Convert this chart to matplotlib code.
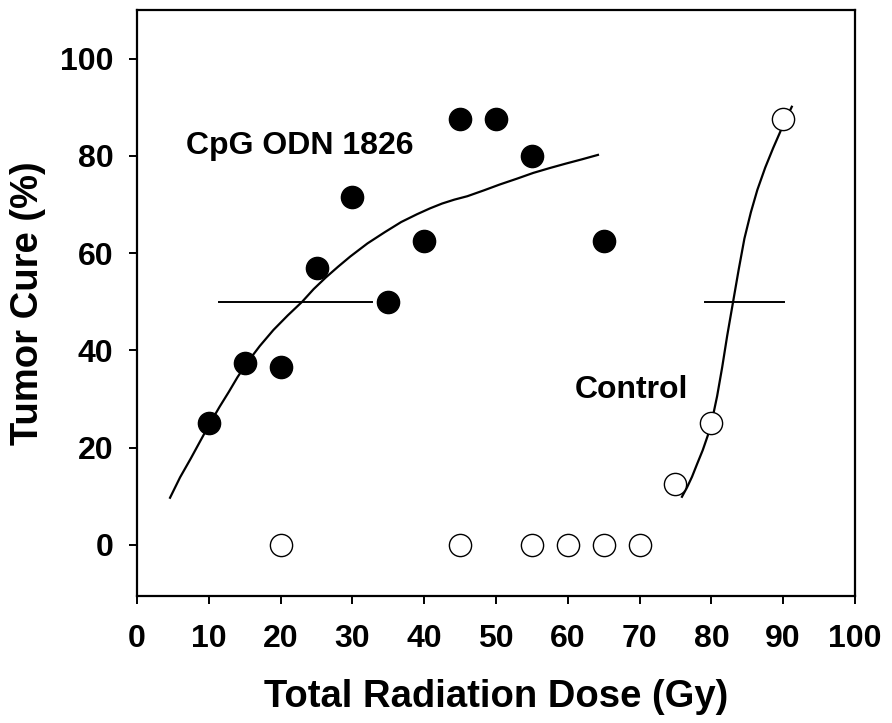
import matplotlib
matplotlib.use("Agg")
import matplotlib.pyplot as plt

# filled circles: CpG ODN 1826 + radiation
cpg_dose = [10, 15, 20, 25, 30, 35, 40, 45, 50, 55, 65]
cpg_cure = [25, 37.5, 36.5, 57, 71.5, 50, 62.5, 87.5, 87.5, 80, 62.5]

# open circles: control
ctl_dose = [20, 45, 55, 60, 65, 70, 75, 80, 90]
ctl_cure = [0, 0, 0, 0, 0, 0, 12.5, 25, 87.5]

# fitted curves
cpg_fit_x = [4.6, 6.0, 7.5, 8.9, 10.2, 11.5, 12.8, 14.0, 15.3, 17.1, 19.0, 21.0, 23.0, 24.6,
             26.3, 28.0, 29.7, 32.1, 34.5, 36.8, 39.0, 40.8, 42.5, 44.2, 46.0, 48.3, 50.5,
             52.9, 55.2, 57.5, 59.7, 62.0, 64.2]
cpg_fit_y = [9.7, 13.9, 17.8, 21.6, 25.1, 28.4, 31.5, 34.5, 37.4, 40.9, 44.2, 47.2, 50.0, 52.6,
             55.0, 57.2, 59.3, 62.0, 64.3, 66.4, 68.0, 69.2, 70.2, 71.0, 71.7, 72.9, 74.1,
             75.3, 76.5, 77.5, 78.4, 79.3, 80.2]
ctl_fit_x = [75.9, 76.6, 77.3, 78.0, 78.8, 79.5, 80.1, 80.8, 81.5, 82.2, 83.0, 83.8, 84.6,
             85.5, 86.4, 87.5, 88.6, 89.9, 91.2]
ctl_fit_y = [9.9, 11.8, 14.0, 16.6, 19.5, 22.5, 25.7, 30.6, 36.5, 43.0, 49.8, 56.6, 63.0,
             68.4, 73.0, 77.6, 81.6, 86.0, 90.1]

# TCD50 markers
cpg_tcd50 = (11.4, 32.7)
ctl_tcd50 = (79.1, 90.1)

plt.rcParams['font.family'] = ['Liberation Sans', 'DejaVu Sans']
plt.rcParams['font.weight'] = 'bold'

fig = plt.figure(figsize=(8.92, 7.23), dpi=100)
ax = fig.add_axes([0.1536, 0.1757, 0.8049, 0.8105])

ax.plot(cpg_fit_x, cpg_fit_y, color='black', lw=1.6, solid_joinstyle='round')
ax.plot(ctl_fit_x, ctl_fit_y, color='black', lw=1.6, solid_joinstyle='round')
ax.plot(cpg_tcd50, [50, 50], color='black', lw=1.4)
ax.plot(ctl_tcd50, [50, 50], color='black', lw=1.4)

ax.plot(cpg_dose, cpg_cure, 'o', ms=16, mfc='black', mec='black', ls='none')
ax.plot(ctl_dose, ctl_cure, 'o', ms=16, mfc='white', mec='black', mew=1.0, ls='none')

ax.text(6.8, 82, 'CpG ODN 1826', fontsize=23, fontweight='bold', va='center', ha='left')
ax.text(60.9, 31.9, 'Control', fontsize=23, fontweight='bold', va='center', ha='left')

ax.set_xlim(0, 100)
ax.set_ylim(-10.5, 110)
ax.set_xticks(range(0, 101, 10))
ax.set_yticks(range(0, 101, 20))
ax.tick_params(axis='both', direction='out', length=6, width=1.4, labelsize=23)
ax.tick_params(axis='y', pad=11)
ax.tick_params(axis='x', pad=14)
for lab in ax.get_xticklabels() + ax.get_yticklabels():
    lab.set_fontweight('bold')
for sp in ax.spines.values():
    sp.set_linewidth(1.6)

ax.set_xlabel('Total Radiation Dose (Gy)', fontsize=27.5, fontweight='bold', labelpad=18)
ax.set_ylabel('Tumor Cure (%)', fontsize=27.5, fontweight='bold', labelpad=10)

fig.savefig('out.png', dpi=100)
